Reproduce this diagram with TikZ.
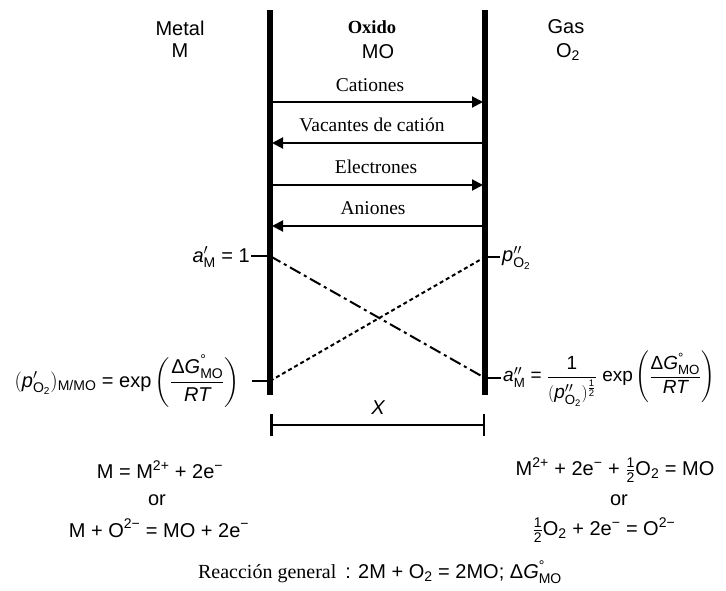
\documentclass[tikz,border=0pt]{standalone}
\usepackage{fontspec}
\usepackage{amsmath}
\setmainfont{Liberation Sans}
\newfontfamily\seriffont{Liberation Serif}
\usetikzlibrary{arrows.meta}
\newcommand\T[1]{\text{#1}}
\newcommand\I[1]{\text{\itshape #1}}
\begin{document}
\begin{tikzpicture}[x=1pt,y=-1pt,
  wall/.style={line width=5.5pt},
  flux/.style={line width=2pt,-{Triangle[length=11pt,width=11pt]}},
  tickline/.style={line width=2pt},
  lbl/.style={font=\fontsize{20}{23}\selectfont, inner sep=0pt},
  slbl/.style={font=\seriffont\fontsize{19.5}{23}\selectfont, inner sep=0pt},
  dashdotline/.style={line width=2pt, dash pattern=on 12pt off 4pt on 3pt off 4pt},
  shortdash/.style={line width=2pt, dash pattern=on 4pt off 3pt},
]
\useasboundingbox (0,0) rectangle (726,590);
% walls
\coordinate (LT) at (270,10); \coordinate (LB) at (270,395);
\coordinate (RT) at (485,10); \coordinate (RB) at (485,395);
\draw[wall] (LT) -- (LB);
\draw[wall] (RT) -- (RB);
% titles
\node[lbl] (metal) at (180,28) {Metal};
\node[lbl] (mm) at (180,51) {M};
\node[slbl,font=\seriffont\bfseries\fontsize{18.5}{22}\selectfont] (oxido) at (372,27) {Oxido};
\node[lbl] (mo) at (378,52) {MO};
\node[lbl] (gas) at (566,27) {Gas};
\node[lbl] (o2) at (568,52) {O\textsubscript{2}};
% fluxes
\coordinate (a1l) at (270,102); \coordinate (a1r) at (483,102);
\coordinate (a2l) at (272,143); \coordinate (a2r) at (485,143);
\coordinate (a3l) at (270,185); \coordinate (a3r) at (483,185);
\coordinate (a4l) at (272,226); \coordinate (a4r) at (485,226);
\node[slbl] (cat) at (370,85) {Cationes};
\draw[flux] (a1l) -- (a1r);
\node[slbl] (vac) at (372,125) {Vacantes de catión};
\draw[flux] (a2r) -- (a2l);
\node[slbl] (ele) at (376,167) {Electrones};
\draw[flux] (a3l) -- (a3r);
\node[slbl] (ani) at (373,208) {Aniones};
\draw[flux] (a4r) -- (a4l);
% ticks and labels
\coordinate (tl1a) at (251,256); \coordinate (tl1b) at (270,256);
\coordinate (tl2a) at (252,381); \coordinate (tl2b) at (270,381);
\coordinate (tr1a) at (485,257); \coordinate (tr1b) at (500,257);
\coordinate (tr2a) at (485,378); \coordinate (tr2b) at (501,378);
\draw[tickline] (tl1a) -- (tl1b);
\draw[tickline] (tl2a) -- (tl2b);
\draw[tickline] (tr1a) -- (tr1b);
\draw[tickline] (tr2a) -- (tr2b);
\node[lbl,anchor=east] (aM) at (250,257) {$\I{a}'_{\T{M}}\T{ = 1}$};
\node[lbl,anchor=east] (pO) at (240,381) {$(\I{p}'_{\T{O}_{\T{2}}})_{\T{M/MO}}\T{ = exp}\left(\dfrac{\T{Δ}\I{G}^{\T{°}}_{\T{MO}}}{\I{RT}}\right)$};
\node[lbl,anchor=west] (pO2) at (502,258) {$\I{p}''_{\T{O}_{\T{2}}}$};
\node[lbl,anchor=west,font=\fontsize{19}{22}\selectfont] (aM2) at (503,379) {$\I{a}''_{\T{M}}\T{ = }\dfrac{\T{1}}{(\I{p}''_{\T{O}_{\T{2}}})^{\frac{\T{1}}{\T{2}}}}\T{ exp}\left(\dfrac{\T{Δ}\I{G}^{\T{°}}_{\T{MO}}}{\I{RT}}\right)$};
% diagonals
\draw[dashdotline] (tl1b) -- (tr2a);
\draw[shortdash] (tl2b) -- (tr1a);
% thickness X
\coordinate (x1) at (270,425); \coordinate (x2) at (485,425);
\draw[line width=2pt,{Bar[width=22pt,line width=2.5pt]}-{Bar[width=22pt,line width=2.5pt]}] (x1) -- (x2);
\node[lbl] (X) at (378,408) {\itshape X};
% reactions
\node[lbl] (r1) at (160,470) {$\T{M = M}^{\T{2+}}\T{ + 2e}^{\T{−}}$};
\node[lbl] (r2) at (157,500) {or};
\node[lbl] (r3) at (159,528) {$\T{M + O}^{\T{2−}}\T{ = MO + 2e}^{\T{−}}$};
\node[lbl] (r4) at (615,470) {$\T{M}^{\T{2+}}\T{ + 2e}^{\T{−}}\T{ + }\tfrac{\T{1}}{\T{2}}\T{O}_{\T{2}}\T{ = MO}$};
\node[lbl] (r5) at (619,500) {or};
\node[lbl] (r6) at (604,530) {$\tfrac{\T{1}}{\T{2}}\T{O}_{\T{2}}\T{ + 2e}^{\T{−}}\T{ = O}^{\T{2−}}$};
\node[lbl] (gen) at (380,572) {{\seriffont Reacción general} \,: $\T{2M + O}_{\T{2}}\T{ = 2MO; Δ}\I{G}^{\T{°}}_{\T{MO}}$};
\end{tikzpicture}
\end{document}
